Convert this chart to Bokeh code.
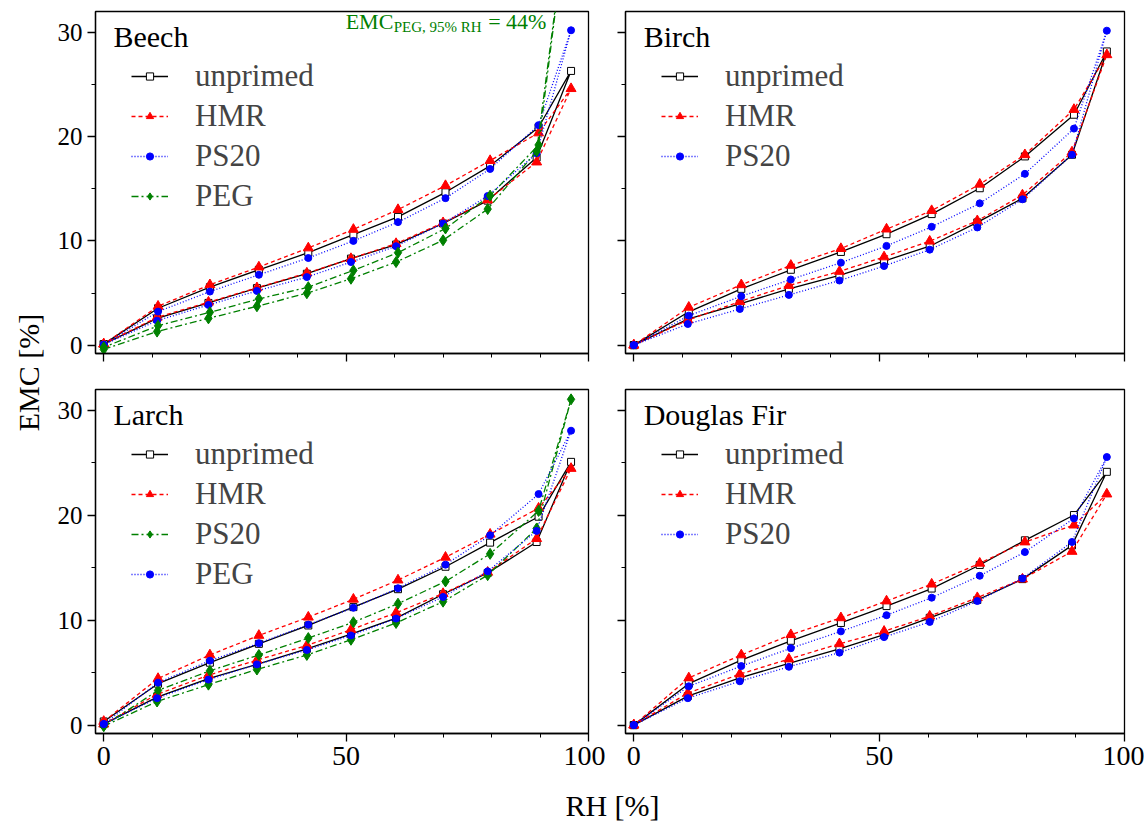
from math import pi
from bokeh.plotting import figure
from bokeh.models import Range1d, FixedTicker, Legend, LegendItem, Label, CustomLabelingPolicy
from bokeh.layouts import row, column
from bokeh.embed import file_html
from bokeh.resources import INLINE

# ---------------- data ----------------
# relative humidity steps [%]: adsorption (0 -> 96) and desorption (back to 0)
RH_ADS = [0, 11.0, 21.6, 31.6, 41.9, 51.0, 60.3, 70.0, 79.2, 89.3, 96.4]
RH_DES = [89.7, 79.7, 70.5, 60.7, 51.5, 42.2, 32.0, 21.9, 11.2, 0]

# Beech
beech_unprimed_ads = [0.1, 2.57, 4.05, 5.47, 6.85, 8.3, 9.65, 11.67, 13.86, 18.0, 26.3]
beech_unprimed_des = [20.9, 17.2, 14.66, 12.3, 10.6, 8.87, 7.23, 5.56, 3.54, 0.1]
beech_hmr_ads = [0.1, 2.67, 4.12, 5.5, 6.91, 8.3, 9.74, 11.74, 13.92, 17.56, 24.6]
beech_hmr_des = [20.35, 17.7, 15.3, 13.0, 11.1, 9.32, 7.49, 5.79, 3.73, 0.1]
beech_ps20_ads = [0.05, 2.35, 3.86, 5.2, 6.53, 7.97, 9.49, 11.67, 14.3, 18.4, 30.2]
beech_ps20_des = [21.1, 16.9, 14.1, 11.8, 10.0, 8.36, 6.75, 5.14, 3.22, 0.05]
beech_peg_ads = [-0.4, 1.3, 2.57, 3.73, 4.98, 6.37, 7.97, 10.06, 13.05, 18.6, 44.0]
beech_peg_des = [19.2, 14.34, 11.19, 8.87, 7.17, 5.56, 4.44, 3.15, 1.86, -0.2]

# Birch
birch_unprimed_ads = [0, 2.5, 3.95, 5.4, 6.69, 8.07, 9.49, 11.77, 14.08, 18.26, 28.17]
birch_unprimed_des = [22.1, 18.1, 15.05, 12.57, 10.64, 8.94, 7.23, 5.4, 3.2, 0]
birch_hmr_ads = [0, 2.41, 4.18, 5.72, 7.07, 8.46, 9.97, 11.93, 14.4, 18.52, 27.85]
birch_hmr_des = [22.6, 18.26, 15.43, 12.9, 11.13, 9.26, 7.65, 5.79, 3.63, 0]
birch_ps20_ads = [0, 2.03, 3.47, 4.82, 6.2, 7.59, 9.16, 11.29, 13.99, 18.26, 30.16]
birch_ps20_des = [20.77, 16.43, 13.6, 11.35, 9.52, 7.91, 6.3, 4.69, 2.83, 0]

# Larch
larch_unprimed_ads = [0.1, 2.67, 4.44, 5.79, 7.27, 8.68, 10.2, 12.48, 14.5, 17.46, 25.1]
larch_unprimed_des = [19.87, 17.4, 15.1, 12.96, 11.25, 9.5, 7.75, 5.95, 3.95, 0.35]
larch_hmr_ads = [0.1, 2.93, 4.76, 6.2, 7.59, 9.1, 10.71, 12.54, 14.57, 17.78, 24.47]
larch_hmr_des = [20.68, 18.2, 16.0, 13.83, 12.0, 10.29, 8.55, 6.69, 4.44, 0.35]
larch_ps20_ads = [-0.1, 2.25, 3.86, 5.3, 6.69, 8.14, 9.74, 11.77, 14.3, 18.75, 31.06]
larch_ps20_des = [20.42, 16.33, 13.7, 11.58, 9.81, 8.3, 6.69, 5.18, 3.31, -0.06]
larch_peg_ads = [0.1, 2.57, 4.34, 5.79, 7.17, 8.55, 10.16, 12.22, 14.66, 18.52, 28.07]
larch_peg_des = [22.03, 18.1, 15.3, 13.05, 11.19, 9.58, 7.81, 6.14, 4.05, 0.1]

# Douglas Fir
df_unprimed_ads = [0, 2.77, 4.5, 5.88, 7.27, 8.62, 10.23, 11.93, 13.92, 17.14, 24.15]
df_unprimed_des = [20.03, 17.62, 15.27, 13.02, 11.35, 9.74, 8.04, 6.2, 3.95, 0]
df_hmr_ads = [0, 3.05, 4.86, 6.3, 7.75, 8.94, 10.39, 12.15, 13.92, 16.56, 22.03]
df_hmr_des = [19.07, 17.46, 15.43, 13.44, 11.83, 10.23, 8.62, 6.69, 4.5, 0]
df_ps20_ads = [0, 2.57, 4.18, 5.56, 6.91, 8.39, 9.84, 11.83, 13.99, 17.46, 25.56]
df_ps20_des = [19.71, 16.5, 14.24, 12.15, 10.48, 8.94, 7.33, 5.63, 3.7, 0]

X_MAJOR = [0, 50, 100]
X_MINOR = [0, 10, 20, 30, 40, 50, 60, 70, 80, 90, 100]
Y_MAJOR = [0, 10, 20, 30]
Y_MINOR = [5, 15, 25]

# ---------------- styles ----------------
STYLES = {
    "black": dict(color="#000000", dash="solid", marker="square", size=7, fill="#ffffff"),
    "red": dict(color="#ff0000", dash="4 3", marker="triangle", size=10, fill="#ff0000"),
    "blue": dict(color="#0000ff", dash="1 2", marker="circle", size=7, fill="#0000ff"),
    "green": dict(color="#008000", dash="7 3 2 3", marker="diamond", size=11, fill="#008000"),
}
SERIF = "Liberation Serif"

HIDE_LABELS = """
const n = indices.size
for (let i = 0; i < n; i++) { indices.unset(i) }
return indices
"""


def make_panel(name, series, width, height, borders, show_x, show_y):
    left, right, top, bottom = borders
    p = figure(width=width, height=height, output_backend="svg", toolbar_location=None,
               x_range=Range1d(-1.7, 100), y_range=Range1d(-0.8, 32),
               min_border_left=left, min_border_right=right,
               min_border_top=top, min_border_bottom=bottom)
    p.grid.visible = False
    p.outline_line_color = "black"
    p.outline_line_width = 1.3
    p.outline_line_alpha = 1.0
    p.background_fill_color = "white"
    p.border_fill_color = "white"

    p.xaxis.ticker = FixedTicker(ticks=X_MAJOR, minor_ticks=X_MINOR)
    p.yaxis.ticker = FixedTicker(ticks=Y_MAJOR, minor_ticks=Y_MINOR)
    for ax, show, fs in ((p.xaxis, show_x, "28px"), (p.yaxis, show_y, "25px")):
        ax.axis_line_color = "black"
        ax.axis_line_width = 1.3
        ax.major_tick_line_color = "black"
        ax.minor_tick_line_color = "black"
        ax.major_tick_line_width = 1.3
        ax.minor_tick_line_width = 1.0
        ax.major_tick_in = 0
        ax.major_tick_out = 8
        ax.minor_tick_in = 0
        ax.minor_tick_out = 4
        ax.major_label_text_font = SERIF
        ax.major_label_text_color = "black"
        if show:
            ax.major_label_text_font_size = fs
            ax.major_label_standoff = 5
        else:
            ax.major_label_text_font_size = "1px"
            ax.major_label_standoff = 0
            ax.major_label_policy = CustomLabelingPolicy(code=HIDE_LABELS)

    items = []
    for label, ads, des, sty in series:
        st = STYLES[sty]
        xs = RH_ADS + RH_DES
        ys = ads + des
        lr = p.line(xs, ys, line_color=st["color"], line_width=1.3, line_dash=st["dash"])
        sr = p.scatter(xs, ys, marker=st["marker"], size=st["size"], line_color=st["color"],
                       fill_color=st["fill"], line_width=1.0)
        items.append(LegendItem(label=label, renderers=[lr, sr]))

    frame_h = height - top - bottom
    leg_top = 45
    leg_h = 40 * len(items)
    legend = Legend(items=items, location=(36, frame_h - leg_top - leg_h),
                    label_text_font=SERIF, label_text_font_size="31px",
                    glyph_width=37, glyph_height=18, label_height=40, spacing=0,
                    padding=0, margin=0, label_standoff=27,
                    border_line_color=None, background_fill_alpha=0.0)
    p.add_layout(legend)

    p.add_layout(Label(x=2.0, y=29.6, text=name, text_font=SERIF, text_font_size="30px",
                       text_baseline="alphabetic", text_color="black"))
    return p


p1 = make_panel("Beech", [("unprimed", beech_unprimed_ads, beech_unprimed_des, "black"),
                          ("HMR", beech_hmr_ads, beech_hmr_des, "red"),
                          ("PS20", beech_ps20_ads, beech_ps20_des, "blue"),
                          ("PEG", beech_peg_ads, beech_peg_des, "green")],
                560, 371, (50, 17, 11, 18), False, True)
p2 = make_panel("Birch", [("unprimed", birch_unprimed_ads, birch_unprimed_des, "black"),
                          ("HMR", birch_hmr_ads, birch_hmr_des, "red"),
                          ("PS20", birch_ps20_ads, birch_ps20_des, "blue")],
                539, 371, (20, 20, 11, 18), False, False)
p3 = make_panel("Larch", [("unprimed", larch_unprimed_ads, larch_unprimed_des, "black"),
                          ("HMR", larch_hmr_ads, larch_hmr_des, "red"),
                          ("PS20", larch_ps20_ads, larch_ps20_des, "green"),
                          ("PEG", larch_peg_ads, larch_peg_des, "blue")],
                560, 412, (50, 17, 18, 50), True, True)
p4 = make_panel("Douglas Fir", [("unprimed", df_unprimed_ads, df_unprimed_des, "black"),
                                ("HMR", df_hmr_ads, df_hmr_des, "red"),
                                ("PS20", df_ps20_ads, df_ps20_des, "blue")],
                539, 412, (20, 20, 18, 50), True, False)

# annotation for PEG in Beech panel
GREEN = "#008000"
p1.add_layout(Label(x=49.9, y=31.0, text="EMC", text_font=SERIF, text_font_size="22px",
                    text_baseline="alphabetic", text_color=GREEN))
p1.add_layout(Label(x=59.8, y=30.5, text="PEG, 95% RH", text_font=SERIF, text_font_size="15px",
                    text_baseline="alphabetic", text_color=GREEN))
p1.add_layout(Label(x=79.3, y=31.0, text="= 44%", text_font=SERIF, text_font_size="22px",
                    text_baseline="alphabetic", text_color=GREEN))

# shared axis titles
ylab = figure(width=45, height=783, output_backend="svg", toolbar_location=None,
              x_range=Range1d(0, 45), y_range=Range1d(0, 783), min_border=0)
ylab.axis.visible = False
ylab.grid.visible = False
ylab.outline_line_color = None
ylab.add_layout(Label(x=28, y=411, text="EMC [%]", angle=pi / 2, text_font=SERIF,
                      text_font_size="30px", text_align="center", text_baseline="middle",
                      text_color="black"))

xlab = figure(width=1144, height=44, output_backend="svg", toolbar_location=None,
              x_range=Range1d(0, 1144), y_range=Range1d(0, 44), min_border=0)
xlab.axis.visible = False
xlab.grid.visible = False
xlab.outline_line_color = None
xlab.add_layout(Label(x=612, y=22, text="RH [%]", text_font=SERIF, text_font_size="30px",
                      text_align="center", text_baseline="middle", text_color="black"))

layout = column(row(ylab, column(row(p1, p2), row(p3, p4))), xlab)

open("out.html", "w").write(file_html(layout, INLINE))
